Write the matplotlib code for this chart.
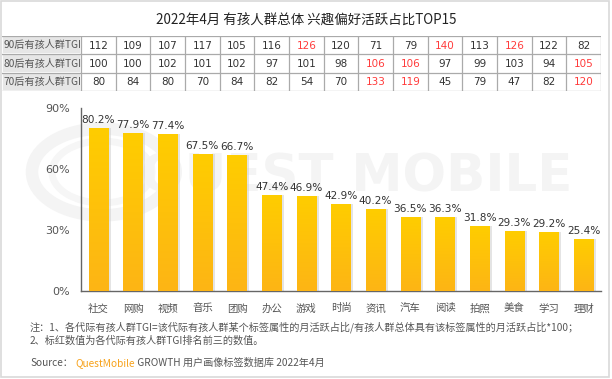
import numpy as np
import matplotlib.pyplot as plt
from matplotlib.colors import LinearSegmentedColormap
from matplotlib.patches import Rectangle, Circle

plt.rcParams['font.family'] = ['Noto Sans CJK SC', 'DejaVu Sans']

# data
categories = ['社交', '网购', '视频', '音乐', '团购', '办公', '游戏', '时尚',
              '资讯', '汽车', '阅读', '拍照', '美食', '学习', '理财']
active_share = [80.2, 77.9, 77.4, 67.5, 66.7, 47.4, 46.9, 42.9,
                40.2, 36.5, 36.3, 31.8, 29.3, 29.2, 25.4]
row_labels = ['90后有孩人群TGI', '80后有孩人群TGI', '70后有孩人群TGI']
tgi_90 = [112, 109, 107, 117, 105, 116, 126, 120, 71, 79, 140, 113, 126, 122, 82]
tgi_80 = [100, 100, 102, 101, 102, 97, 101, 98, 106, 106, 97, 99, 103, 94, 105]
tgi_70 = [80, 84, 80, 70, 84, 82, 54, 70, 133, 119, 45, 79, 47, 82, 120]
yticks = [0, 30, 60, 90]

W, H = 612, 379
fig = plt.figure(figsize=(W / 100, H / 100), dpi=100)


def fx(px):
    return px / W


def fy(py):
    return 1 - py / H


# outer frame
fig.add_artist(Rectangle((fx(1), fy(377)), fx(608), 376 / H, transform=fig.transFigure,
                         fill=False, edgecolor='#d9d9d9', lw=1.2, zorder=-2))

# watermark (behind everything)
fig.add_artist(Circle((fx(102), fy(172)), 70 / W, transform=fig.transFigure,
                      fill=False, edgecolor='#f4f4f4', lw=9, zorder=-2))
fig.add_artist(Circle((fx(102), fy(172)), 50 / W, transform=fig.transFigure,
                      fill=False, edgecolor='#f6f6f6', lw=5, zorder=-2))
fig.text(fx(357), fy(178), 'QUEST MOBILE', fontsize=37, color='#f4f4f4',
         family='DejaVu Sans', fontweight='bold', ha='center', va='center', zorder=-2)

# title
fig.text(fx(306), fy(21), '2022年4月 有孩人群总体 兴趣偏好活跃占比TOP15',
         fontsize=9.7, color='#222222', ha='center', va='center')

# main bar chart
ax = fig.add_axes([fx(81), fy(291), fx(601) - fx(81), (291 - 108) / H])
ax.patch.set_alpha(0)
x = np.arange(len(categories))
bw = 0.55
cmap = LinearSegmentedColormap.from_list('yel', ['#FDB515', '#FFCD00'])
grad = np.linspace(0, 1, 100).reshape(-1, 1)

ax.bar(x + 0.08, active_share, bw, color='#cfcfcf', alpha=0.55, zorder=2)
bars = ax.bar(x, active_share, bw, color='#FFC107', zorder=3)
for b in bars:
    x0 = b.get_x()
    im = ax.imshow(grad, extent=[x0, x0 + b.get_width(), 0, b.get_height()],
                   origin='lower', aspect='auto', cmap=cmap, zorder=4)
    im.set_clip_path(b)
for xi, v in zip(x, active_share):
    ax.text(xi, v + 1.5, f'{v}%', ha='center', va='bottom', fontsize=7.6, color='#333333',
            family='DejaVu Sans', zorder=5)

ax.set_xlim(-0.5, len(categories) - 0.5)
ax.set_ylim(0, 90)
ax.set_yticks(yticks)
ax.set_yticklabels([f'{t}%' for t in yticks])
ax.set_xticks(x)
ax.set_xticklabels(categories)
ax.tick_params(axis='y', length=0, labelsize=8, labelcolor='#555555', pad=8)
ax.tick_params(axis='x', length=0, labelsize=7.5, labelcolor='#555555', pad=9)
for lab in ax.get_yticklabels():
    lab.set_family('DejaVu Sans')
for s in ['top', 'right']:
    ax.spines[s].set_visible(False)
for s in ['left', 'bottom']:
    ax.spines[s].set_color('#666666')
    ax.spines[s].set_linewidth(1)

# TGI table aligned with bars
lab_w = 79 / (520 / 15)
tx = fig.add_axes([fx(2), fy(91), fx(601) - fx(2), (91 - 36) / H])
tx.set_xlim(-0.5 - lab_w, len(categories) - 0.5)
tx.set_ylim(3, 0)
tx.axis('off')
rows = [tgi_90, tgi_80, tgi_70]
for r, (lab, vals) in enumerate(zip(row_labels, rows)):
    tx.add_patch(Rectangle((-0.5 - lab_w, r), lab_w, 1, facecolor='#e6e6e6',
                           edgecolor='white', lw=1.2, zorder=1))
    tx.text(-0.5 - lab_w + 0.03, r + 0.5, lab, ha='left', va='center', fontsize=7.3,
            color='#555555')
    top3 = sorted(vals, reverse=True)[:3]
    for c, v in enumerate(vals):
        col = '#ff3b3b' if v >= top3[-1] else '#333333'
        tx.text(c, r + 0.52, str(v), ha='center', va='center', fontsize=7.5, color=col,
                family='DejaVu Sans')
for r in range(4):
    tx.plot([-0.5 - lab_w, len(categories) - 0.5], [r, r], color='#aaaaaa', lw=0.9, zorder=2)
for c in range(len(categories) + 1):
    tx.plot([c - 0.5, c - 0.5], [0, 3], color='#aaaaaa', lw=0.9, zorder=2)

# notes
fig.text(fx(30), fy(327), '注：1、各代际有孩人群TGI=该代际有孩人群某个标签属性的月活跃占比/有孩人群总体具有该标签属性的月活跃占比*100；',
         fontsize=7.3, color='#555555', va='center')
fig.text(fx(30), fy(341), '2、标红数值为各代际有孩人群TGI排名前三的数值。',
         fontsize=7.3, color='#555555', va='center')
t1 = fig.text(fx(30), fy(363), 'Source：', fontsize=7.3, color='#555555', va='center')
t2 = plt.annotate('QuestMobile', xy=(1, 0), xycoords=t1, va='bottom', fontsize=7.3,
                  color='#F7A21B', xytext=(2, 0), textcoords='offset points')
plt.annotate(' GROWTH 用户画像标签数据库 2022年4月', xy=(1, 0), xycoords=t2, va='bottom',
             fontsize=7.3, color='#555555')

fig.savefig('out.png', dpi=100)
